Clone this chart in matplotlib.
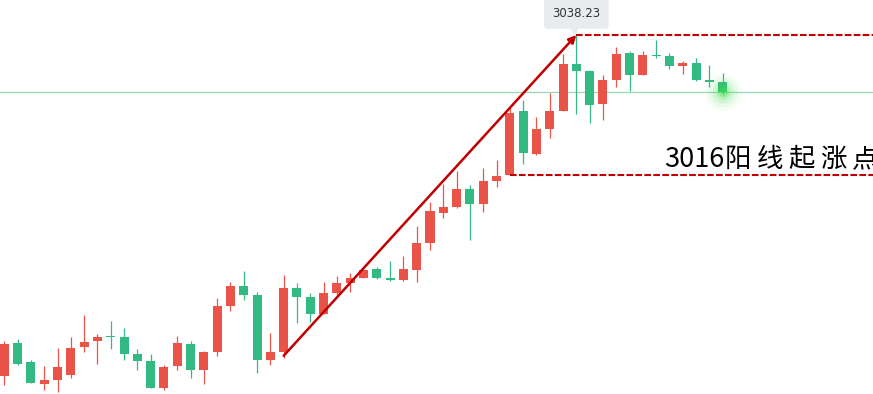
"""
    Candlestick chart with rally annotation
"""

import matplotlib
matplotlib.use('Agg')
import matplotlib.pyplot as plt
import numpy as np


# OHLC
opens = [2984.13, 2989.32, 2986.31, 2982.86, 2983.50, 2984.29, 2988.74, 2989.69, 2990.43, 2990.28,
         2987.58, 2986.46, 2982.22, 2985.72, 2989.16, 2985.08, 2987.94, 2995.25, 2998.37, 2996.94,
         2986.67, 2987.94, 2998.06, 2996.63, 2993.98, 2997.31, 2998.90, 2999.69, 3001.07, 2999.64,
         2999.37, 3000.96, 3005.25, 3010.01, 3010.97, 3013.78, 3011.44, 3015.09, 3016.00, 3026.16,
         3019.38, 3023.35, 3026.21, 3033.63, 3032.51, 3027.32, 3031.13, 3035.37, 3031.93, 3035.05,
         3034.90, 3033.36, 3033.78, 3031.08, 3030.77]
highs = [2989.64, 2989.96, 2986.62, 2985.67, 2988.53, 2990.28, 2993.77, 2990.75, 2992.82, 2991.70,
         2988.37, 2987.58, 2985.83, 2990.43, 2989.64, 2988.05, 2996.47, 2999.01, 3000.76, 2997.42,
         2990.91, 3000.12, 2998.85, 2997.26, 2999.01, 2999.96, 3000.44, 3001.39, 3001.39, 3002.34,
         3003.14, 3007.90, 3011.71, 3014.57, 3016.63, 3014.41, 3017.11, 3018.38, 3026.64, 3027.91,
         3025.21, 3029.02, 3035.21, 3038.23, 3032.67, 3031.88, 3036.32, 3035.69, 3035.69, 3037.44,
         3035.37, 3034.10, 3034.58, 3033.47, 3032.20]
lows = [2982.70, 2985.90, 2982.90, 2981.91, 2981.59, 2983.81, 2987.94, 2986.04, 2988.42, 2986.67,
        2985.08, 2982.22, 2981.91, 2985.08, 2983.81, 2982.86, 2987.31, 2994.45, 2996.20, 2984.61,
        2985.88, 2986.99, 2992.55, 2992.70, 2993.90, 2996.67, 2997.47, 2999.60, 2999.53, 2999.22,
        2999.22, 2999.06, 3004.14, 3009.22, 3010.81, 3005.73, 3010.17, 3014.14, 3015.95, 3017.79,
        3019.22, 3021.92, 3026.10, 3025.73, 3024.30, 3024.78, 3030.02, 3029.39, 3031.85, 3034.58,
        3032.88, 3032.08, 3030.97, 3030.02, 3028.91]
closes = [2989.16, 2986.04, 2983.02, 2983.45, 2985.51, 2988.53, 2989.48, 2990.28, 2990.32, 2987.62,
          2986.51, 2982.22, 2985.51, 2989.32, 2985.08, 2987.89, 2995.20, 2998.37, 2996.99, 2986.67,
          2987.89, 2998.06, 2996.67, 2993.98, 2997.26, 2998.85, 2999.64, 3000.91, 2999.69, 2999.37,
          3001.07, 3005.20, 3010.28, 3010.92, 3013.78, 3011.44, 3015.05, 3015.84, 3025.84, 3019.54,
          3023.30, 3026.16, 3033.63, 3032.56, 3027.16, 3031.08, 3035.21, 3031.93, 3035.05, 3034.90,
          3033.36, 3033.78, 3031.13, 3030.81, 3029.23]

PEAK = 3038.23
BASE = 3016.00
RALLY_START = (21, 2987.3)
RALLY_END = (43, PEAK)
BASE_IDX = 38
NOTE_NUM = '3016'
NOTE_CJK = '阳线起涨点'

UP = '#ea5448'
DOWN = '#33b982'
MARK = '#c00000'

o = np.array(opens)
h = np.array(highs)
l = np.array(lows)
c = np.array(closes)
x = np.arange(len(o))
colors = np.where(c >= o, UP, DOWN)

fig = plt.figure(figsize=(8.73, 3.94), dpi=100)
ax = fig.add_axes([0, 0, 1, 1])

ax.vlines(x, l, h, colors=colors, lw=0.9, zorder=2)
body = np.maximum(np.abs(c - o), 0.18)
ax.bar(x, body, bottom=np.minimum(o, c), width=0.68, color=colors, zorder=3)

# last price line
ax.axhline(c[-1], color='#9ad8b8', lw=0.9, zorder=1)

# glow on last candle
for s, a in [(700, 0.05), (450, 0.08), (250, 0.12), (110, 0.2), (40, 0.35)]:
    ax.scatter(x[-1], c[-1], s=s, color='#3ee04a', alpha=a, lw=0, zorder=4)

# rally arrow
ax.annotate('', xy=RALLY_END, xytext=RALLY_START,
            arrowprops=dict(arrowstyle='-|>', color=MARK, lw=1.8, mutation_scale=11,
                            shrinkA=0, shrinkB=0), zorder=5)

# dashed levels
xmax = 65.3
ax.hlines(PEAK, RALLY_END[0], xmax, colors=MARK, lw=1.5, linestyles=(0, (3.2, 1.1)), zorder=5)
ax.hlines(BASE, BASE_IDX, xmax, colors=MARK, lw=1.5, linestyles=(0, (3.2, 1.1)), zorder=5)

# peak label
ax.annotate('%.2f' % PEAK, xy=RALLY_END, xytext=(0, 10.5), textcoords='offset points',
            ha='center', va='bottom', fontsize=8.5, color='#333333',
            bbox=dict(boxstyle='round,pad=0.7,rounding_size=0.25', fc='#e9ecef', ec='none'))
ax.plot(RALLY_END[0] - 0.2, PEAK + 0.7, marker='v', ms=7, color='#e9ecef', mec='none', zorder=4)

# note, CJK glyphs set a bit wider apart like the original
cjk = ['Noto Sans CJK SC', 'DejaVu Sans']
ax.text(49.6, 3017.27, NOTE_NUM, fontsize=19.5, color='black', va='baseline', family=cjk, zorder=6)
for k, ch in enumerate(NOTE_CJK):
    ax.text(54.15 + 2.4 * k, 3017.27, ch, fontsize=19, color='black', va='baseline',
            family=cjk, zorder=6)

ax.set_xlim(-0.323, xmax)
ax.set_ylim(2981.23, 3043.79)
ax.axis('off')

fig.savefig('out.png', dpi=100)
